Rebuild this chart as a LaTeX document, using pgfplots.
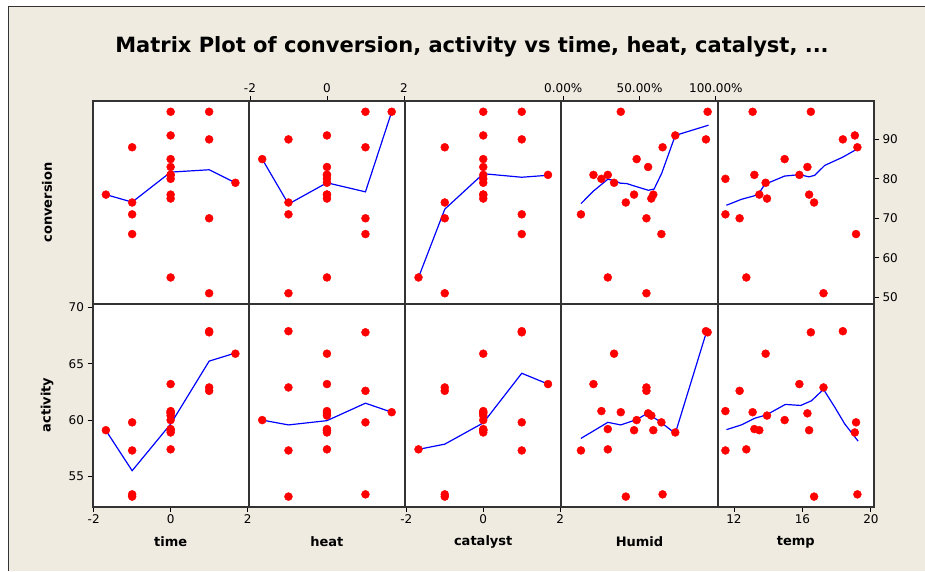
\documentclass[border=0pt]{standalone}
\usepackage{fontspec}
\setmainfont{DejaVu Sans}
\usepackage{pgfplots}
\usepackage{pgfplotstable}
\pgfplotsset{compat=1.18}
\definecolor{bg}{HTML}{EFEBE1}
\definecolor{frame}{HTML}{333333}

\pgfplotstableread{
run time heat cat humid temp conv act
1 -1 -1 -1 0.410 16.68 74 53.2
2 1 -1 -1 0.545 17.23 51 62.9
3 -1 1 -1 0.651 19.21 88 53.4
4 1 1 -1 0.545 12.33 70 62.6
5 -1 -1 1 0.116 11.50 71 57.3
6 1 -1 1 0.935 18.36 90 67.9
7 -1 1 1 0.643 19.13 66 59.8
8 1 1 1 0.946 16.49 97 67.8
9 -1.682 0 0 0.590 13.48 76 59.1
10 1.682 0 0 0.333 13.85 79 65.9
11 0 -1.682 0 0.481 14.96 85 60.0
12 0 1.682 0 0.377 13.09 97 60.7
13 0 0 -1.682 0.292 12.72 55 57.4
14 0 0 1.682 0.198 15.82 81 63.2
15 0 0 0 0.292 13.19 81 59.2
16 0 0 0 0.577 13.93 75 60.4
17 0 0 0 0.464 16.39 76 59.1
18 0 0 0 0.556 16.29 83 60.6
19 0 0 0 0.250 11.50 80 60.8
20 0 0 0 0.734 19.06 91 58.9
}\data

\pgfplotsset{
  mp/.style={scale only axis, width=156.3pt, anchor=south west,
    axis line style={frame},
    tick align=outside, major tick length=5pt,
    tick style={black, line width=0.9pt},
    xtick=\empty, ytick=\empty,
    ticklabel style={font=\fontsize{12}{14}\selectfont},
    /pgf/number format/assume math mode=true},
  toprow/.style={mp, height=202pt, ymin=48.4, ymax=99.6},
  botrow/.style={mp, height=203pt, ymin=52.32, ymax=70.36},
  coded/.style={xmin=-2.03, xmax=2.03},
  hum/.style={xmin=-0.012, xmax=1.012},
  tmp/.style={xmin=11.05, xmax=20.18},
  pts/.style={only marks, mark=*, mark size=4pt, color=red},
  low/.style={blue, line width=1.2pt, no marks},
}

\begin{document}
\begin{tikzpicture}
\useasboundingbox (0,0) rectangle (925pt,571pt);
\fill[white] (0,0) rectangle (925pt,571pt);
\fill[bg] (8.3pt,0) rectangle (925pt,564.3pt);
\draw[line width=1.2pt, frame] (8.3pt,0) -- (8.3pt,564.3pt) -- (925pt,564.3pt);
\fill[white] (92.5pt,64.5pt) rectangle (874pt,469.5pt);

\node[font=\bfseries\fontsize{21}{24}\selectfont] at (472pt,524pt) {Matrix Plot of conversion, activity vs time, heat, catalyst, ...};

% ---------- top row: conversion ----------
\begin{axis}[toprow, coded, at={(92.5pt,267.5pt)}]
\addplot[pts] table[x=time,y=conv]{\data};
\addplot[low] coordinates {(-1.682,76.0) (-1,74.1) (0,81.7) (1,82.3) (1.682,79.0)};
\end{axis}
\begin{axis}[toprow, coded, at={(248.8pt,267.5pt)}, xtick={-2,0,2}, xtick pos=right, xticklabel pos=right]
\addplot[pts] table[x=heat,y=conv]{\data};
\addplot[low] coordinates {(-1.682,85.0) (-1,73.6) (0,79.0) (1,76.7) (1.682,97.0)};
\end{axis}
\begin{axis}[toprow, coded, at={(405.1pt,267.5pt)}]
\addplot[pts] table[x=cat,y=conv]{\data};
\addplot[low] coordinates {(-1.682,55.0) (-1,72.3) (0,81.3) (1,80.4) (1.682,80.9)};
\end{axis}
\begin{axis}[toprow, hum, at={(561.4pt,267.5pt)}, xtick={0,0.5,1}, xticklabels={0.00\%,50.00\%,100.00\%}, xtick pos=right, xticklabel pos=right]
\addplot[pts] table[x=humid,y=conv]{\data};
\addplot[low] coordinates {(0.116,73.7) (0.198,76.9) (0.292,79.9) (0.340,79.5) (0.373,78.9) (0.416,78.8) (0.481,78.0) (0.558,77.1) (0.595,77.4) (0.645,81.4) (0.734,91.0) (0.952,93.6)};
\end{axis}
\begin{axis}[toprow, tmp, at={(717.7pt,267.5pt)}, ytick={50,60,...,90}, ytick pos=right, yticklabel pos=right]
\addplot[pts] table[x=temp,y=conv]{\data};
\addplot[low] coordinates {(11.56,73.3) (12.43,74.8) (13.19,75.7) (13.48,76.5) (13.80,78.6) (14.96,80.7) (15.82,81.05) (16.39,80.5) (16.72,80.9) (17.30,83.4) (18.36,85.5) (19.21,87.6)};
\end{axis}

% ---------- bottom row: activity ----------
\begin{axis}[botrow, coded, at={(92.5pt,64.5pt)}, xtick={-2,0,2}, xtick pos=left, xticklabel pos=left, ytick={55,60,65,70}, ytick pos=left, yticklabel pos=left]
\addplot[pts] table[x=time,y=act]{\data};
\addplot[low] coordinates {(-1.682,59.08) (-1,55.5) (0,59.65) (1,65.24) (1.682,65.96)};
\end{axis}
\begin{axis}[botrow, coded, at={(248.8pt,64.5pt)}]
\addplot[pts] table[x=heat,y=act]{\data};
\addplot[low] coordinates {(-1.682,60.0) (-1,59.57) (0,59.95) (1,61.5) (1.682,60.7)};
\end{axis}
\begin{axis}[botrow, coded, at={(405.1pt,64.5pt)}, xtick={-2,0,2}, xtick pos=left, xticklabel pos=left]
\addplot[pts] table[x=cat,y=act]{\data};
\addplot[low] coordinates {(-1.682,57.4) (-1,57.86) (0,59.75) (1,64.16) (1.682,63.2)};
\end{axis}
\begin{axis}[botrow, hum, at={(561.4pt,64.5pt)}]
\addplot[pts] table[x=humid,y=act]{\data};
\addplot[low] coordinates {(0.116,58.37) (0.292,59.8) (0.377,59.57) (0.481,60.04) (0.551,60.6) (0.634,59.86) (0.734,58.81) (0.939,67.86)};
\end{axis}
\begin{axis}[botrow, tmp, at={(717.7pt,64.5pt)}, xtick={12,16,20}, xtick pos=left, xticklabel pos=left]
\addplot[pts] table[x=temp,y=act]{\data};
\addplot[low] coordinates {(11.56,59.15) (12.43,59.57) (13.21,60.16) (13.89,60.46) (15.0,61.39) (15.9,61.3) (16.53,61.72) (17.23,62.73) (17.89,61.14) (18.47,59.66) (19.25,58.13)};
\end{axis}

% ---------- panel frames (pixel aligned) ----------
\begin{scope}[frame, line width=2pt, line cap=rect]
\draw (93pt,64pt) rectangle (874pt,470pt);
\draw (93pt,267pt) -- (874pt,267pt);
\foreach \xx in {249,405,561,718} \draw (\xx pt,64pt) -- (\xx pt,470pt);
\end{scope}

% ---------- variable labels ----------
\begin{scope}[every node/.style={font=\bfseries\fontsize{13}{15}\selectfont}]
\node at (170.6pt,29pt) {time};
\node at (326.9pt,29pt) {heat};
\node at (483.2pt,29pt) {catalyst};
\node at (639.5pt,29pt) {Humid};
\node at (795.8pt,29pt) {temp};
\node[rotate=90] at (47pt,368.5pt) {conversion};
\node[rotate=90] at (47pt,166pt) {activity};
\end{scope}
\end{tikzpicture}
\end{document}
